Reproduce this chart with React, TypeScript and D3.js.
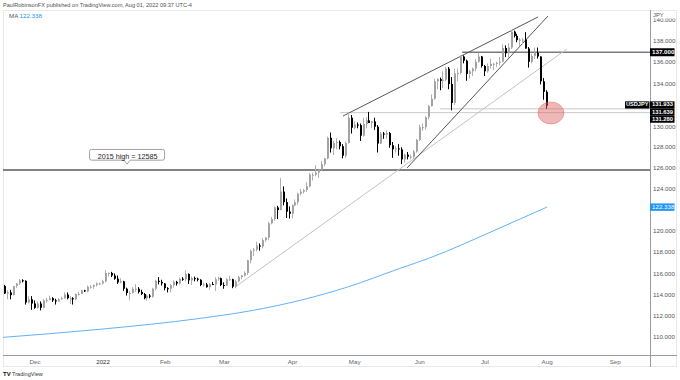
import React from "react";
import * as d3 from "d3";

const W = 680;
const H = 380;

// ---- data (USDJPY daily, Nov 17 2021 – Aug 01 2022) ----
const opens = [
  114.85,114.15,114.25,114.0,114.85,115.1,115.4,115.35,113.3,113.6,
  113.2,112.8,113.2,112.8,113.5,113.55,113.7,113.5,113.4,113.6,113.7,114.05,113.7,113.7,113.6,114.1,114.1,114.45,114.35,114.8,114.8,114.95,115.1,
  115.1,115.3,116.1,116.1,115.85,115.55,115.2,115.3,114.6,114.2,114.2,114.6,114.6,114.3,114.1,113.7,113.95,113.85,114.6,115.35,115.25,
  115.1,114.65,114.6,114.95,115.25,115.1,115.55,115.5,116.0,115.4,115.6,115.55,115.45,114.95,115.0,114.75,115.05,115.0,115.5,115.6,
  114.95,114.9,115.5,115.5,114.8,115.3,115.7,115.85,116.1,117.3,118.2,118.3,118.7,118.6,119.2,119.45,120.8,121.2,122.3,122.05,123.8,122.8,121.9,
  121.7,122.5,122.8,123.6,123.8,123.95,124.3,125.4,125.4,125.6,125.9,126.4,126.95,128.9,127.9,128.4,128.5,128.1,127.2,128.4,130.8,
  129.85,130.15,130.1,129.1,130.2,130.55,130.3,130.45,129.95,128.35,129.3,129.2,129.35,128.2,127.8,127.9,127.8,126.85,127.3,127.1,127.1,127.6,
  128.7,129.9,129.9,130.85,131.9,132.6,134.25,134.45,134.3,134.4,135.45,134.0,132.2,135.0,135.05,136.6,136.2,134.95,135.2,135.45,136.1,136.6,
  135.7,135.2,135.7,135.9,135.9,136.0,136.1,137.4,136.9,137.45,138.95,138.55,138.15,138.2,138.2,137.35,136.1,136.65,136.95,136.6,134.25,
  133.25,
];
const highs = [
  114.97,114.45,114.5,114.85,115.15,115.52,115.5,115.4,113.9,113.9,
  113.5,113.4,113.4,113.6,113.75,113.95,113.8,113.65,113.7,113.85,114.25,114.25,113.9,113.8,114.15,114.3,114.5,114.5,114.9,114.95,115.0,115.2,115.2,
  115.45,116.35,116.15,116.2,116.05,115.85,115.6,115.35,114.7,114.4,114.75,115.05,114.75,114.5,114.2,114.05,114.1,114.7,115.45,115.7,115.45,
  115.15,114.75,115.05,115.4,115.35,115.65,115.7,116.35,116.05,115.75,115.75,115.65,115.5,115.2,115.15,115.15,115.25,115.7,115.75,115.65,
  115.2,115.6,115.8,115.55,115.45,115.8,115.9,116.25,117.35,118.3,118.45,119.05,118.9,119.4,119.5,120.95,121.4,122.4,122.45,125.1,124.3,123.15,122.4,
  122.6,123.05,123.7,124.05,124.05,124.7,125.55,125.6,126.3,125.95,126.7,127.0,129.0,129.4,128.6,128.85,128.65,128.3,128.55,131.25,131.05,
  130.45,130.35,130.25,130.8,130.85,131.35,130.5,130.8,130.1,129.45,129.45,129.6,129.45,128.5,128.15,128.3,128.0,127.4,127.55,127.3,127.75,128.8,
  130.15,130.25,130.95,132.0,133.0,134.5,134.55,134.6,135.2,135.6,135.6,134.65,135.45,135.45,136.7,136.7,136.3,135.35,135.55,136.35,136.95,136.65,
  135.8,135.95,136.4,136.0,136.1,136.55,137.75,137.65,137.85,139.1,139.05,138.75,138.35,138.35,138.9,137.5,136.85,137.45,137.45,136.6,134.55,
  133.4,
];
const lows = [
  114.1,113.6,113.6,113.95,114.65,114.95,115.2,113.1,113.2,112.6,
  112.7,112.7,112.55,112.75,113.3,113.5,113.35,113.1,113.4,113.55,113.65,113.6,113.15,113.1,113.5,113.95,114.1,114.3,114.3,114.6,114.6,114.8,114.95,
  115.0,115.2,115.75,115.7,115.45,115.05,115.1,114.4,113.95,113.5,114.15,114.3,114.15,114.0,113.6,113.45,113.7,113.75,114.45,115.0,114.9,
  114.45,114.25,114.25,114.7,114.9,115.0,115.35,115.3,115.05,114.95,115.3,115.3,114.85,114.8,114.7,114.5,114.95,114.4,115.35,114.85,
  114.6,114.85,115.35,114.65,114.65,115.2,115.5,115.75,115.9,117.0,117.7,118.15,118.2,118.45,119.05,119.2,120.7,121.05,121.2,122.05,122.5,121.3,121.25,
  121.3,122.4,122.55,123.45,123.6,123.75,124.2,124.85,125.25,125.1,125.8,126.2,126.85,127.5,127.25,127.8,127.8,126.95,127.0,128.35,129.3,
  129.7,129.8,128.6,129.0,129.8,130.3,129.8,129.65,127.5,128.3,128.8,128.8,127.95,127.0,127.5,127.2,126.4,126.55,126.85,126.85,126.9,127.5,
  128.6,129.55,129.65,130.65,131.85,132.5,133.5,133.4,133.6,134.25,133.5,131.5,132.0,134.25,134.9,135.95,134.3,134.5,134.75,135.2,136.0,135.55,
  134.75,135.05,135.45,135.3,135.6,135.75,136.05,136.55,136.5,137.3,138.4,137.95,137.6,137.75,137.4,135.55,135.95,136.35,136.4,133.95,132.5,
  131.64,
];
const closes = [
  114.15,114.25,114.0,114.85,115.1,115.4,115.35,113.3,113.6,113.2,
  112.8,113.2,112.8,113.5,113.55,113.7,113.5,113.4,113.6,113.7,114.05,113.7,113.7,113.6,114.1,114.1,114.45,114.35,114.8,114.8,114.95,115.1,115.1,
  115.3,116.1,116.1,115.85,115.55,115.2,115.3,114.6,114.2,114.2,114.6,114.6,114.3,114.1,113.7,113.95,113.85,114.6,115.35,115.25,115.1,
  114.65,114.6,114.95,115.25,115.1,115.55,115.5,116.0,115.4,115.6,115.55,115.45,114.95,115.0,114.75,115.05,115.0,115.5,115.6,114.95,
  114.9,115.5,115.5,114.8,115.3,115.7,115.85,116.1,117.3,118.2,118.3,118.7,118.6,119.2,119.45,120.8,121.2,122.3,122.05,123.8,122.8,121.9,121.7,
  122.5,122.8,123.6,123.8,123.95,124.3,125.4,125.4,125.6,125.9,126.4,126.95,128.9,127.9,128.4,128.5,128.1,127.2,128.4,130.8,129.85,
  130.15,130.1,129.1,130.2,130.55,130.3,130.45,129.95,128.35,129.3,129.2,129.35,128.2,127.8,127.9,127.8,126.85,127.3,127.1,127.1,127.6,128.7,
  129.9,129.9,130.85,131.9,132.6,134.25,134.45,134.3,134.4,135.45,134.0,132.2,135.0,135.05,136.6,136.2,134.95,135.2,135.45,136.1,136.6,135.7,
  135.2,135.7,135.9,135.9,136.0,136.1,137.4,136.9,137.45,138.95,138.55,138.15,138.2,138.2,137.35,136.1,136.65,136.95,136.6,134.25,133.25,
  131.933,
];

// 200-day moving average, read at a few candle positions
const maIndex = [-2, 32, 66, 83, 100, 116, 133, 143, 167, 183];
const maValues = [109.97, 110.76, 111.8, 112.52, 113.53, 114.8, 116.5, 117.48, 120.35, 122.338];

// axis tick labels (132 and 122 are hidden behind the price tags)
const priceTicks = [110, 112, 114, 116, 118, 120, 124, 126, 128, 130, 134, 136, 138, 140];
const monthLabels = ["Dec", "2022", "Feb", "Mar", "Apr", "May", "Jun", "Jul", "Aug", "Sep"];

// drawings: [index, price]
const upperWedge = [[114.05, 130.96], [179.93, 140.34]];
const lowerWedge = [[135.7, 126.04], [183.3, 140.43]];
const longTrend = [[77.6, 114.76], [189.7, 137.31]];
const level2015 = 125.85;
const level137 = 137.0;
const levelLowA = 131.639;
const levelLowB = 131.28;
const lastPrice = 131.933;
const maLast = 122.338;

const N = closes.length;
const allDays = d3
  .timeDay.range(new Date(2021, 10, 17), new Date(2022, 8, 30))
  .filter((d) => d.getDay() !== 0 && d.getDay() !== 6);

const FONT = "'Liberation Sans', Arial, sans-serif";

export default function App() {
  const PL = 3, PT = 10, PR = 650, PB = 355;
  const x = d3.scaleLinear().domain([0, N - 1]).range([5.4, 5.4 + (N - 1) * 2.96]);
  const y = d3.scaleLinear().domain([110, 138]).range([337.3, 41.7]);

  const monthTicks: { i: number; label: string }[] = [];
  let li = 0;
  for (let i = 1; i < allDays.length; i++) {
    if (allDays[i].getMonth() !== allDays[i - 1].getMonth() && li < monthLabels.length) {
      monthTicks.push({ i, label: monthLabels[li++] });
    }
  }

  const maLine = d3
    .line<number>()
    .x((_, k) => x(maIndex[k]))
    .y((v) => y(v))
    .curve(d3.curveMonotoneX)(maValues);

  const seg = (p: number[][]) => ({ x1: x(p[0][0]), y1: y(p[0][1]), x2: x(p[1][0]), y2: y(p[1][1]) });
  const uw = seg(upperWedge);
  const lw = seg(lowerWedge);
  const lt = seg(longTrend);

  const candles = closes.map((c, i) => {
    const o = opens[i];
    const h = Math.max(highs[i], o, c);
    const l = Math.min(lows[i], o, c);
    const up = c >= o;
    const cx = Math.round(x(i));
    const yt = y(Math.max(o, c));
    const yb = y(Math.min(o, c));
    const col = up ? "#a3a3a3" : "#000000";
    return (
      <g key={i}>
        <line x1={cx - 0.5} x2={cx - 0.5} y1={y(h)} y2={y(l)} stroke={up ? "#b0b0b0" : "#000"} strokeWidth={1} />
        <rect x={cx - 1} y={yt} width={2} height={Math.max(1, yb - yt)} fill={col} />
      </g>
    );
  });

  const calloutX = x(41.1);
  const calloutY = y(level2015) - 6;

  const lab1 = y(lastPrice) - 0.8;
  const lab2 = lab1 + 7.1;
  const lab3 = lab2 + 7.1;

  return (
    <svg width={W} height={H} style={{ position: "absolute", left: 0, top: 0, background: "#fff" }} fontFamily={FONT}>
      <defs>
        <clipPath id="pane">
          <rect x={PL} y={PT} width={PR - PL} height={PB - PT} />
        </clipPath>
        <clipPath id="axisclip">
          <rect x={PR} y={18.5} width={30} height={PB - 18.5} />
        </clipPath>
      </defs>
      <rect x={0} y={0} width={W} height={H} fill="#fff" />
      <text x={3} y={7} fontSize={5.6} fill="#505050">
        PaulRobinsonFX published on TradingView.com, Aug 01, 2022 09:37 UTC-4
      </text>
      <rect x={PL + 0.5} y={PT + 0.5} width={677 - PL - 1} height={367 - PT - 1} fill="none" stroke="#e6e8ee" />
      <line x1={PR + 0.5} x2={PR + 0.5} y1={PT} y2={367} stroke="#9a9ca3" strokeWidth={1} />
      <line x1={PL} x2={677} y1={PB + 0.5} y2={PB + 0.5} stroke="#9a9ca3" strokeWidth={1} />

      <text x={9} y={18} fontSize={6.2} fill="#555">MA</text>
      <text x={19.5} y={18} fontSize={6.2} fill="#2196f3">{maLast.toFixed(3)}</text>

      <g clipPath="url(#pane)">
        <path d={maLine || ""} fill="none" stroke="#62b2f5" strokeWidth={1} />
        <line x1={PL} x2={PR} y1={y(level2015)} y2={y(level2015)} stroke="#5a5a5a" strokeWidth={1.6} />
        <line x1={x(154.3)} x2={PR} y1={y(level137)} y2={y(level137)} stroke="#7a7a7a" strokeWidth={1.4} />
        <line x1={x(146.8)} x2={PR} y1={y(levelLowA)} y2={y(levelLowA)} stroke="#c9c9c9" strokeWidth={1} />
        <line x1={x(113)} x2={PR} y1={y(levelLowB)} y2={y(levelLowB)} stroke="#c9c9c9" strokeWidth={1} />
        <line {...lt} stroke="#c2c2c2" strokeWidth={1} />
        <line {...uw} stroke="#555" strokeWidth={1} />
        <line {...lw} stroke="#555" strokeWidth={1} />
        {candles}
        <ellipse cx={x(184.3)} cy={y(131.25)} rx={13} ry={11} fill="rgba(222,96,96,0.45)" stroke="rgba(222,96,96,0.55)" strokeWidth={0.8} />
        <path
          d={`M${calloutX - 35.5},${calloutY - 14.5} h71 a2,2 0 0 1 2,2 v6.7 a2,2 0 0 1 -2,2 h-32.5 l-3,4 l-3,-4 h-32.5 a2,2 0 0 1 -2,-2 v-6.7 a2,2 0 0 1 2,-2 z`}
          fill="#fff"
          stroke="#8a8a8a"
          strokeWidth={0.8}
        />
        <text x={calloutX + 0.5} y={calloutY - 7.3} fontSize={7.2} fill="#1e1e1e" textAnchor="middle" dominantBaseline="middle">
          2015 high = 12585
        </text>
      </g>

      <g clipPath="url(#axisclip)">
        {priceTicks.map((p) => (
          <text key={p} x={653} y={p === 130 ? y(p) + 1 : y(p)} fontSize={6.2} fill="#555" dominantBaseline="middle">
            {p.toFixed(3)}
          </text>
        ))}
      </g>
      <text x={653} y={15} fontSize={5.8} fill="#555" dominantBaseline="middle">JPY</text>

      <rect x={650} y={y(level137) - 4} width={24.5} height={8} fill="#000" />
      <text x={652} y={y(level137)} fontSize={6.2} fill="#fff" dominantBaseline="middle" fontWeight="bold">
        {level137.toFixed(3)}
      </text>

      <rect x={625} y={lab1 - 3.6} width={24.5} height={7.2} fill="#000" />
      <text x={637.2} y={lab1} fontSize={5.6} fill="#fff" textAnchor="middle" dominantBaseline="middle" fontWeight="bold">
        USDJPY
      </text>
      {[
        [lab1, lastPrice],
        [lab2, levelLowA],
        [lab3, levelLowB],
      ].map(([cy, v], k) => (
        <g key={k}>
          <rect x={650} y={cy - 3.6} width={24.5} height={7.2} fill="#000" />
          <text x={652} y={cy} fontSize={5.8} fill="#fff" dominantBaseline="middle" fontWeight="bold">
            {v.toFixed(3)}
          </text>
        </g>
      ))}
      <rect x={650} y={y(maLast) - 3.6} width={24.5} height={7.4} fill="#2196f3" />
      <text x={652} y={y(maLast)} fontSize={6.2} fill="#fff" dominantBaseline="middle">
        {maLast.toFixed(3)}
      </text>

      {monthTicks.map((t) => (
        <text key={t.label} x={x(t.i)} y={362} fontSize={6.2} fill={t.label === "2022" ? "#333" : "#666"} textAnchor="middle" dominantBaseline="middle">
          {t.label}
        </text>
      ))}

      <text x={3} y={376} fontSize={6} fill="#111" fontWeight="bold">TV</text>
      <text x={12} y={376} fontSize={5.6} fill="#333">TradingView</text>
    </svg>
  );
}
